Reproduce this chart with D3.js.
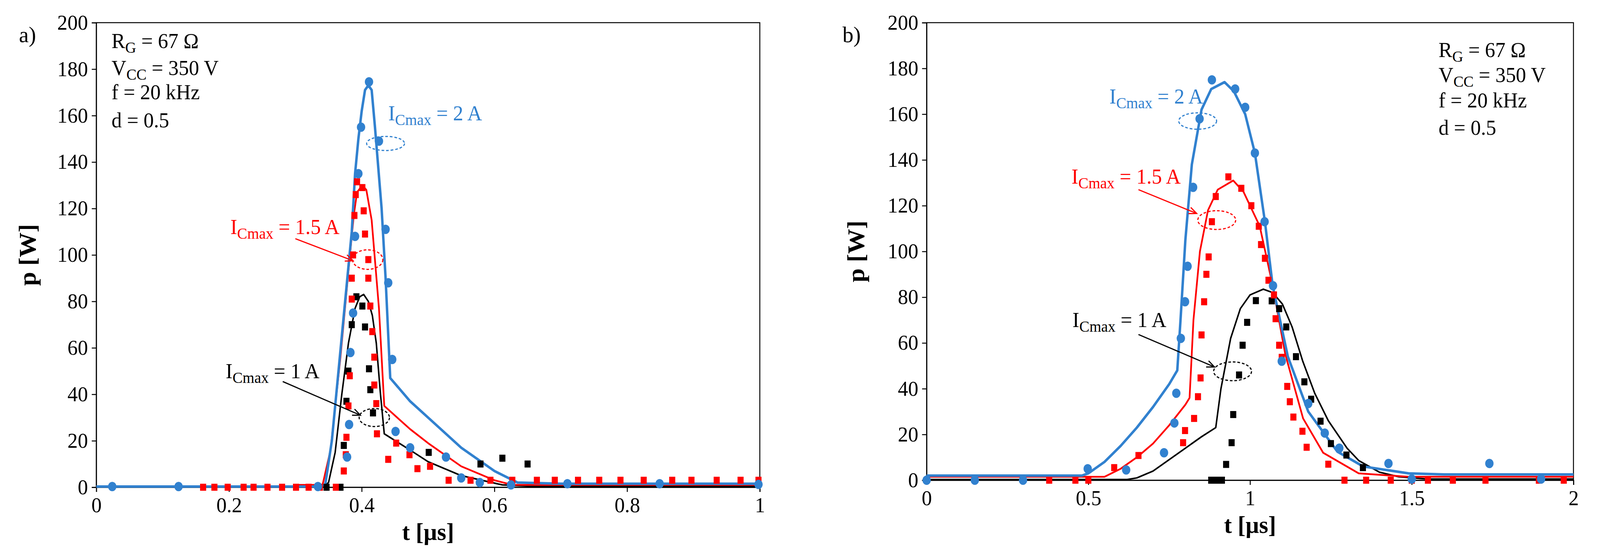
<!DOCTYPE html>
<html><head><meta charset="utf-8">
<script src="https://cdn.jsdelivr.net/npm/d3@7"></script>
<style>html,body{margin:0;background:#fff;overflow:hidden}svg{display:block;width:100vw;height:100vh}text{font-family:"Liberation Serif","Times New Roman",serif}</style>
</head><body><svg id="c" viewBox="0 0 4220 1423" preserveAspectRatio="none"></svg>
<script>
// panel a data (t in us, p in W)
var aBlueLine = [[0,0.3],[0.335,0.3],[0.345,1],[0.355,20],[0.365,50],[0.375,80],[0.385,110],[0.39,135],[0.395,150],[0.4,162],[0.405,171],[0.41,173],[0.415,171],[0.42,155],[0.43,120],[0.436,90],[0.443,47],[0.473,37],[0.5,30],[0.55,17],[0.6,7],[0.635,2],[0.7,1.5],[1,1.5]];
var aBlueDots = [[0.024,0.3],[0.124,0.3],[0.334,0.3],[0.378,13],[0.381,27],[0.383,58],[0.387,75],[0.39,108],[0.395,135],[0.399,155],[0.411,174.5],[0.426,149],[0.436,111],[0.44,88],[0.446,55],[0.451,24],[0.473,17],[0.527,13],[0.55,4],[0.578,2],[0.625,1],[0.71,1.5],[0.849,1.5],[0.998,1.2]];
var aRedLine = [[0.3,1],[0.341,1],[0.353,16],[0.368,56],[0.38,93],[0.388,117],[0.393,127],[0.401,130],[0.407,128],[0.415,115],[0.426,77],[0.434,35],[0.473,25],[0.5,19],[0.55,9],[0.6,3],[0.627,1],[1,1]];
var aRedDots = [[0.161,0],[0.178,0],[0.198,0],[0.222,0],[0.237,0],[0.258,0],[0.28,0],[0.301,0],[0.32,0],[0.337,0],[0.361,0],[0.373,7],[0.376,14],[0.377,21.5],[0.38,35],[0.382,48],[0.385,81],[0.385,90],[0.387,100],[0.389,117],[0.391,126],[0.393,131.5],[0.401,129],[0.403,119],[0.405,109],[0.41,98],[0.41,90],[0.413,78],[0.416,67],[0.419,56],[0.419,44],[0.422,36],[0.423,23],[0.44,12],[0.452,19],[0.472,14],[0.484,8],[0.503,9],[0.531,3],[0.564,3],[0.594,3],[0.627,3],[0.664,3],[0.691,3],[0.726,3],[0.758,3],[0.79,3],[0.825,3],[0.868,3],[0.897,3],[0.935,3],[0.971,3],[0.998,3]];
var aBlackLine = [[0.3,0],[0.34,0],[0.35,2],[0.36,15],[0.37,40],[0.38,62],[0.39,77],[0.397,82],[0.403,83],[0.41,80],[0.416,74],[0.422,62],[0.428,41],[0.434,23],[0.473,16],[0.5,11],[0.55,5],[0.612,1],[0.65,0.5],[1,0.5]];
var aBlackDots = [[0.347,0],[0.368,0],[0.373,18],[0.377,37],[0.38,50],[0.385,70],[0.392,82],[0.401,78],[0.405,69],[0.411,51],[0.413,42],[0.417,32],[0.501,15],[0.579,10],[0.612,12.5],[0.65,10]];

// panel b data
var bBlueLine = [[0,2],[0.48,2],[0.5,3],[0.55,8],[0.6,15],[0.65,23],[0.7,32],[0.75,42],[0.775,48],[0.785,70],[0.8,105],[0.82,138],[0.85,162],[0.88,171],[0.921,174],[0.95,170],[0.985,160],[1.015,143],[1.046,113],[1.07,85],[1.117,54],[1.18,30],[1.27,12.5],[1.35,6],[1.49,3],[1.6,2.5],[2,2.5]];
var bBlueDots = [[0,0],[0.149,0],[0.298,0],[0.498,5],[0.617,4.5],[0.734,12],[0.766,25],[0.772,38],[0.786,62],[0.799,78],[0.807,93.5],[0.824,128],[0.844,158],[0.882,175],[0.954,171],[0.985,163],[1.015,143],[1.045,113],[1.071,85],[1.098,52],[1.18,33.5],[1.231,20.6],[1.276,14],[1.428,7.3],[1.5,0.5],[1.74,7.3],[1.9,0.5]];
var bRedLine = [[0,1.5],[0.55,1.5],[0.6,5],[0.65,10],[0.7,16],[0.75,24],[0.8,33],[0.813,36],[0.825,70],[0.845,100],[0.87,118],[0.9,127],[0.948,131],[0.98,126],[1.03,111],[1.07,85],[1.109,55],[1.164,27],[1.226,12],[1.336,3],[1.49,1.5],[2,1.5]];
var bRedDots = [[0.379,0],[0.46,0],[0.5,0],[0.58,5.5],[0.655,10.8],[0.793,16.4],[0.799,21.7],[0.827,27],[0.839,36.5],[0.847,44.7],[0.85,63.5],[0.858,78],[0.865,90],[0.872,97.6],[0.882,113],[0.894,124],[0.933,132.6],[0.973,127.6],[1.004,120],[1.027,111],[1.034,103],[1.046,97],[1.057,87.4],[1.074,81],[1.079,70.6],[1.09,59],[1.098,53.7],[1.115,41],[1.123,34.3],[1.134,27.6],[1.162,21.4],[1.175,14.4],[1.242,7],[1.292,0],[1.359,0],[1.435,0],[1.5,0],[1.55,0],[1.627,0],[1.728,0],[1.893,0],[1.97,0]];
var bBlackLine = [[0,0.3],[0.62,0.3],[0.65,1],[0.7,4],[0.75,9],[0.8,14],[0.85,19],[0.894,23],[0.91,40],[0.94,62],[0.97,75],[1.0,81],[1.041,83.5],[1.07,82],[1.1,77],[1.13,67],[1.163,52],[1.2,38],[1.242,26],[1.3,14],[1.336,8.6],[1.4,3.5],[1.46,1.5],[1.55,0.5],[2,0.5]];
var bBlackDots = [[0.88,0],[0.896,0],[0.913,0],[0.926,6.9],[0.943,16.4],[0.948,28.7],[0.966,46],[0.977,59],[0.991,69],[1.018,78.5],[1.067,78.4],[1.09,75],[1.112,67],[1.142,54],[1.168,43],[1.189,35.4],[1.218,25.8],[1.25,16],[1.298,11],[1.349,5.5]];

var yTicks = d3.range(0, 201, 20);
var aTicks = [0, 0.2, 0.4, 0.6, 0.8, 1];
var bTicks = [0, 0.5, 1, 1.5, 2];
var params = [['R','G',' = 67 Ω'],['V','CC',' = 350 V'],['f','',' = 20 kHz'],['d','',' = 0.5']];

var BLUE = '#3181cf', RED = '#ff0000', BLACK = '#000';
var svg = d3.select('#c');

function drawPanel(o) {
    var x = d3.scaleLinear().domain(o.xDom).range([o.left, o.right]);
    var y = d3.scaleLinear().domain([0, 200]).range([o.bottom, o.top]);
    var g = svg.append('g');
    g.append('rect').attr('x', o.left).attr('y', o.top)
        .attr('width', o.right - o.left).attr('height', o.bottom - o.top)
        .attr('fill', 'none').attr('stroke', '#000').attr('stroke-width', 2.5);
    var ya = g.append('g').attr('transform', 'translate(' + o.left + ',0)')
        .call(d3.axisLeft(y).tickValues(yTicks).tickSize(12).tickPadding(10));
    var xa = g.append('g').attr('transform', 'translate(0,' + o.bottom + ')')
        .call(d3.axisBottom(x).tickValues(o.ticks).tickSize(12).tickPadding(14).tickFormat(d3.format('')));
    [ya, xa].forEach(function(a) {
        a.select('.domain').attr('stroke-width', 2.5);
        a.selectAll('line').attr('stroke-width', 2.5);
        a.selectAll('text').attr('font-size', 54).attr('font-family', '"Liberation Serif",serif');
    });
    // axis titles
    g.append('text').attr('x', (o.left + o.right) / 2).attr('y', o.bottom + 135)
        .attr('text-anchor', 'middle').attr('font-size', 62).attr('font-weight', 'bold').text('t [µs]');
    g.append('text').attr('transform', 'translate(' + (o.left - o.ylab) + ',' + ((o.top + o.bottom) / 2) + ') rotate(-90)')
        .attr('text-anchor', 'middle').attr('font-size', 64).attr('font-weight', 'bold').text('p [W]');
    g.append('text').attr('x', o.tagX).attr('y', o.top + 50).attr('font-size', 58).text(o.tag);

    var line = d3.line().x(function(d) { return x(d[0]); }).y(function(d) { return y(d[1]); });
    var marks = g.append('g');
    o.series.forEach(function(s) {
        marks.append('path').datum(s.line).attr('d', line).attr('fill', 'none')
            .attr('stroke', s.color).attr('stroke-width', s.w).attr('stroke-linejoin', 'round');
    });
    o.series.forEach(function(s) {
        if (s.circle) {
            marks.selectAll(null).data(s.dots).enter().append('ellipse')
                .attr('cx', function(d) { return x(d[0]); }).attr('cy', function(d) { return y(d[1]); })
                .attr('rx', 11).attr('ry', 12).attr('fill', s.color);
        } else {
            marks.selectAll(null).data(s.dots).enter().append('rect')
                .attr('x', function(d) { return x(d[0]) - 8; }).attr('y', function(d) { return y(d[1]) - 9; })
                .attr('width', 16).attr('height', 18).attr('fill', s.color);
        }
    });

    // parameter box
    params.forEach(function(p, i) {
        var t = g.append('text').attr('x', x(o.parX)).attr('y', y(o.parY[i])).attr('font-size', 54);
        t.append('tspan').text(p[0]);
        if (p[1]) t.append('tspan').attr('dy', 12).attr('font-size', 40).text(p[1]);
        t.append('tspan').attr('dy', p[1] ? -12 : 0).text(p[2]);
    });

    // annotations
    o.notes.forEach(function(n) {
        var t = g.append('text').attr('x', x(n.lx)).attr('y', y(n.ly)).attr('font-size', 54).attr('fill', n.color);
        t.append('tspan').text('I');
        t.append('tspan').attr('dy', 12).attr('font-size', 40).text('Cmax');
        t.append('tspan').attr('dy', -12).text(' = ' + n.text);
        g.append('ellipse').attr('cx', x(n.ex)).attr('cy', y(n.ey)).attr('rx', n.rx).attr('ry', n.ry)
            .attr('fill', 'none').attr('stroke', n.color).attr('stroke-width', 3).attr('stroke-dasharray', '7,5');
        if (n.ax) {
            var x1 = x(n.ax[0]), y1 = y(n.ax[1]), x2 = x(n.ax[2]), y2 = y(n.ax[3]);
            g.append('line').attr('x1', x1).attr('y1', y1).attr('x2', x2).attr('y2', y2)
                .attr('stroke', n.color).attr('stroke-width', 3);
            var ang = Math.atan2(y2 - y1, x2 - x1), L = 22, sp = 0.4;
            g.append('path').attr('d', 'M' + (x2 - L * Math.cos(ang - sp)) + ',' + (y2 - L * Math.sin(ang - sp)) +
                    'L' + x2 + ',' + y2 + 'L' + (x2 - L * Math.cos(ang + sp)) + ',' + (y2 - L * Math.sin(ang + sp)))
                .attr('fill', 'none').attr('stroke', n.color).attr('stroke-width', 3);
        }
    });
}

drawPanel({
    left: 254, right: 2004, top: 58, bottom: 1247, xDom: [0, 1], ticks: aTicks,
    tag: 'a)', tagX: 50, ylab: 160, parX: 0.023, parY: [189, 177.5, 167, 155],
    series: [
        {line: aBlackLine, dots: aBlackDots, color: BLACK, w: 4},
        {line: aRedLine, dots: aRedDots, color: RED, w: 4.5},
        {line: aBlueLine, dots: aBlueDots, color: BLUE, w: 6.5, circle: true}
    ],
    notes: [
        {text: '2 A', color: BLUE, lx: 0.44, ly: 158, ex: 0.436, ey: 148, rx: 50, ry: 18},
        {text: '1.5 A', color: RED, lx: 0.202, ly: 109, ex: 0.409, ey: 98, rx: 40, ry: 25, ax: [0.3, 107, 0.387, 97.5]},
        {text: '1 A', color: BLACK, lx: 0.195, ly: 47, ex: 0.419, ey: 30, rx: 40, ry: 23, ax: [0.281, 45.5, 0.398, 31]}
    ]
});

drawPanel({
    left: 2444, right: 4150, top: 58, bottom: 1229, xDom: [0, 2], ticks: bTicks,
    tag: 'b)', tagX: 2222, ylab: 165, parX: 1.583, parY: [185, 174, 163, 151],
    series: [
        {line: bBlackLine, dots: bBlackDots, color: BLACK, w: 4},
        {line: bRedLine, dots: bRedDots, color: RED, w: 4.5},
        {line: bBlueLine, dots: bBlueDots, color: BLUE, w: 6.5, circle: true}
    ],
    notes: [
        {text: '2 A', color: BLUE, lx: 0.565, ly: 164.7, ex: 0.838, ey: 157, rx: 50, ry: 21},
        {text: '1.5 A', color: RED, lx: 0.448, ly: 129.6, ex: 0.897, ey: 113.7, rx: 50, ry: 24, ax: [0.655, 127, 0.835, 116.6]},
        {text: '1 A', color: BLACK, lx: 0.451, ly: 67, ex: 0.946, ey: 47.6, rx: 50, ry: 24, ax: [0.655, 63.7, 0.89, 49.5]}
    ]
});
</script></body></html>
